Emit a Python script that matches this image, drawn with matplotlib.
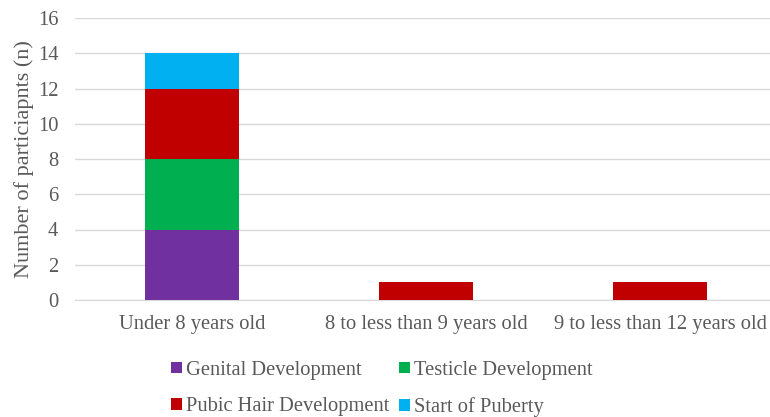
import matplotlib
matplotlib.use("Agg")
import matplotlib.pyplot as plt
import numpy as np

categories = ["Under 8 years old", "8 to less than 9 years old", "9 to less than 12 years old"]
series_names = ["Genital Development", "Testicle Development", "Pubic Hair Development", "Start of Puberty"]
genital = [4, 0, 0]
testicle = [4, 0, 0]
pubic = [4, 1, 1]
puberty = [2, 0, 0]
colors = ["#7030A0", "#00B050", "#C00000", "#00B0F0"]
yticks = [0, 2, 4, 6, 8, 10, 12, 14, 16]

plt.rcParams['font.family'] = ['Liberation Serif', 'DejaVu Serif']
txt = "#595959"

fig = plt.figure(figsize=(7.7, 4.17), dpi=100)
ax = fig.add_axes([75/770, 1-300/417, 1-75/770, (300-18)/417])

x = np.arange(len(categories))
bottom = np.zeros(len(categories))
handles = []
for name, vals, c in zip(series_names, [genital, testicle, pubic, puberty], colors):
    h = ax.bar(x, vals, 0.4, bottom=bottom, color=c, label=name, zorder=3)
    handles.append(h)
    bottom += np.array(vals)

ax.set_xlim(-0.5, 2.47)
ax.set_ylim(0, 16)
ax.set_yticks(yticks)
ax.set_xticks(x)
ax.set_xticklabels(categories)
ax.yaxis.grid(True, color="#d9d9d9", linewidth=1, zorder=0)
for s in ["top", "right", "left"]:
    ax.spines[s].set_visible(False)
ax.spines["bottom"].set_color("#d9d9d9")
ax.tick_params(axis="both", length=0, labelsize=14.8, colors=txt)
ax.tick_params(axis="x", pad=11)
ax.tick_params(axis="y", pad=12)
ax.set_ylabel("Number of particiapnts (n)", fontsize=16, color=txt, labelpad=3)

order = [0, 2, 1, 3]
leg = fig.legend([handles[i] for i in order], [series_names[i] for i in order],
                 ncol=2, loc="center left", bbox_to_anchor=(161/770, 1-389/417),
                 frameon=False, fontsize=14.8, handlelength=0.5, handleheight=0.5,
                 handletextpad=0.2, columnspacing=0.5, labelspacing=0.85, borderpad=0)
for t in leg.get_texts():
    t.set_color(txt)

fig.savefig("out.png", dpi=100)
